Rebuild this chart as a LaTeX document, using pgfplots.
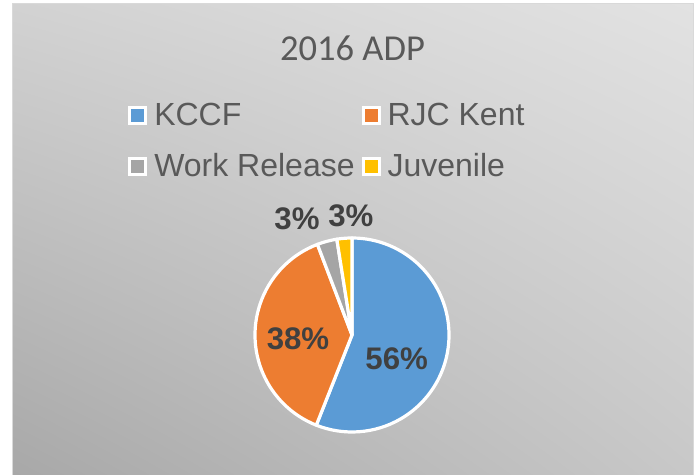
\documentclass[border=0pt]{standalone}
\usepackage{pgfplots}
\usepackage{pgfplotstable}
\pgfplotsset{compat=1.18}
\usetikzlibrary{shadings}
\usepackage{fontspec}
\setmainfont{Liberation Sans}
\newfontfamily\titlefont{Carlito}

\definecolor{kblue}{HTML}{5B9BD5}
\definecolor{korange}{HTML}{ED7D31}
\definecolor{kgray}{HTML}{A5A5A5}
\definecolor{kyellow}{HTML}{FFC000}
\definecolor{txt}{HTML}{595959}
\definecolor{lbl}{HTML}{404040}
\definecolor{bgll}{HTML}{A8A8A8}
\definecolor{bgur}{HTML}{E2E2E2}
\definecolor{bgul}{HTML}{D2D2D2}
\definecolor{bglr}{HTML}{C8C8C8}
\definecolor{frame}{HTML}{D9D9D9}

% share of average daily population, per cent
\pgfplotstableread{
label value
KCCF 56.0
RJC 38.2
Work 3.3
Juvenile 2.5
}\piedata

\newcommand\getval[2]{\pgfplotstablegetelem{#1}{value}\of\piedata\xdef#2{\pgfplotsretval}}

\begin{document}
\begin{tikzpicture}
% slice angles, clockwise from 12 o'clock
\getval{0}{\vA}\getval{1}{\vB}\getval{2}{\vC}\getval{3}{\vD}
\pgfmathsetmacro\aA{90}
\pgfmathsetmacro\aB{\aA-3.6*\vA}
\pgfmathsetmacro\aC{\aB-3.6*\vB}
\pgfmathsetmacro\aD{\aC-3.6*\vC}
\pgfmathsetmacro\aE{\aD-3.6*\vD}
\def\R{72.75pt}
\begin{axis}[
    width=524.25pt, height=356.25pt,
    scale only axis,
    hide axis,
    clip=false,
    xmin=0, xmax=699, ymin=0, ymax=475,
  ]
  \fill[white] (axis cs:0,0) rectangle (axis cs:699,475);
  \shade[lower left=bgll, upper right=bgur, upper left=bgul, lower right=bglr]
    (axis cs:12,0) rectangle (axis cs:693,471);
  \draw[line width=0.75pt, color=frame]
    (axis cs:12,0) -- (axis cs:12,471) -- (axis cs:693,471) -- (axis cs:693,0);

  \node[font=\titlefont\fontsize{27.4}{30}\selectfont, text=txt, anchor=base, inner sep=0pt]
    at (axis cs:352.5,414.3) {2016 ADP};

  % wedges
  \draw[fill=kblue, draw=white, line width=2.4pt, line join=round]
    (axis cs:352,140) -- ++(\aA:\R) arc[start angle=\aA, end angle=\aB, radius=\R] -- cycle;
  \draw[fill=korange, draw=white, line width=2.4pt, line join=round]
    (axis cs:352,140) -- ++(\aB:\R) arc[start angle=\aB, end angle=\aC, radius=\R] -- cycle;
  \draw[fill=kgray, draw=white, line width=2.4pt, line join=round]
    (axis cs:352,140) -- ++(\aC:\R) arc[start angle=\aC, end angle=\aD, radius=\R] -- cycle;
  \draw[fill=kyellow, draw=white, line width=2.4pt, line join=round]
    (axis cs:352,140) -- ++(\aD:\R) arc[start angle=\aD, end angle=\aE, radius=\R] -- cycle;

  % data labels
  \begin{scope}[every node/.style={font=\bfseries\fontsize{23.4}{26}\selectfont, text=lbl, anchor=base, inner sep=0pt}]
    \node at (axis cs:396.7,105) {56\%};
    \node at (axis cs:298,125) {38\%};
    \node at (axis cs:297,245) {3\%};
    \node at (axis cs:350.8,248.3) {3\%};
  \end{scope}

  % legend
  \begin{scope}[every node/.style={font=\fontsize{24}{27}\selectfont, text=txt, anchor=base west, inner sep=0pt}]
    \draw[fill=kblue, draw=white, line width=2.25pt] (axis cs:129.5,351.5) rectangle (axis cs:145.5,367.5);
    \node at (axis cs:154,349) {KCCF};
    \draw[fill=korange, draw=white, line width=2.25pt] (axis cs:363,351.5) rectangle (axis cs:379,367.5);
    \node at (axis cs:387.3,349) {RJC Kent};
    \draw[fill=kgray, draw=white, line width=2.25pt] (axis cs:129.5,300.6) rectangle (axis cs:145.5,316.6);
    \node at (axis cs:154,298.3) {Work Release};
    \draw[fill=kyellow, draw=white, line width=2.25pt] (axis cs:363,300.6) rectangle (axis cs:379,316.6);
    \node at (axis cs:387.3,298.3) {Juvenile};
  \end{scope}
\end{axis}
\end{tikzpicture}
\end{document}
